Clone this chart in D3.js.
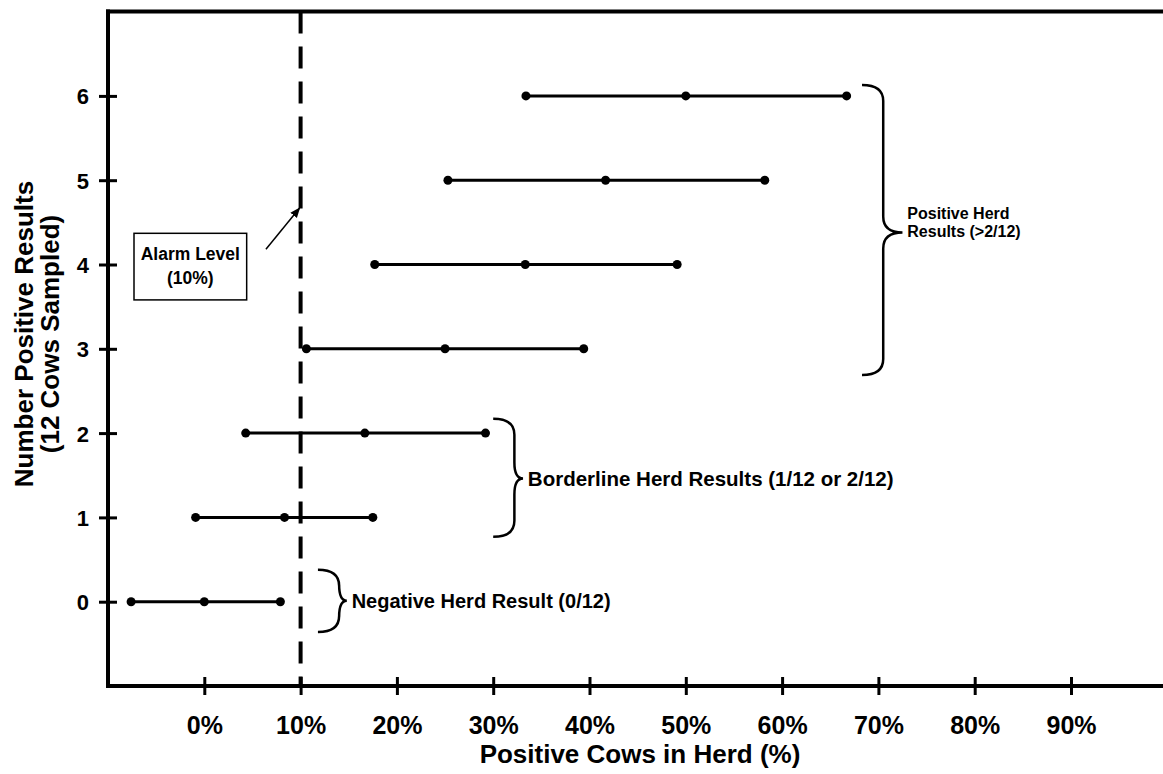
<!DOCTYPE html>
<html><head><meta charset="utf-8">
<script src="https://cdn.jsdelivr.net/npm/d3@7"></script>
<style>body{margin:0;background:#fff} text{font-family:"Liberation Sans",Arial,sans-serif;font-weight:bold;fill:#000}</style>
</head><body><svg id="c" width="1163" height="774"></svg>
<script>
// ---- data ----
const counts   = [0, 1, 2, 3, 4, 5, 6];
const lowPct   = [-7.6, -0.9, 4.3, 10.6, 17.7, 25.3, 33.4];
const midPct   = [0, 8.33, 16.67, 25, 33.33, 41.67, 50];
const highPct  = [7.9, 17.5, 29.2, 39.4, 49.1, 58.2, 66.7];
const xTickValues = [0, 10, 20, 30, 40, 50, 60, 70, 80, 90];
const yTickValues = [0, 1, 2, 3, 4, 5, 6];
const alarmLevel = 10;
const xTitle = "Positive Cows in Herd (%)";
const yTitleLines = ["Number Positive Results", "(12 Cows Sampled)"];

const svg = d3.select("#c");
const x = d3.scaleLinear().domain([-10, 100]).range([108, 1167.3]);
const y = d3.scaleLinear().domain([-1, 7]).range([686, 11.6]);

// frame lines
const axW = 4;
svg.append("line").attr("x1", x(-10)-2).attr("x2", 1163).attr("y1", y(7)).attr("y2", y(7)).attr("stroke","#000").attr("stroke-width",axW);
svg.append("line").attr("x1", x(-10)).attr("x2", x(-10)).attr("y1", y(7)-2).attr("y2", y(-1)+2).attr("stroke","#000").attr("stroke-width",axW);
svg.append("line").attr("x1", x(-10)-2).attr("x2", 1163).attr("y1", y(-1)).attr("y2", y(-1)).attr("stroke","#000").attr("stroke-width",axW);

// x axis
const gx = svg.append("g").attr("transform", `translate(0,${y(-1)})`)
  .call(d3.axisBottom(x).tickValues(xTickValues).tickSize(9).tickPadding(0).tickFormat(d => d + "%"));
gx.select(".domain").remove();
gx.selectAll(".tick line").attr("y1", -9).attr("y2", 9).attr("stroke","#000").attr("stroke-width",3);
gx.selectAll(".tick text").attr("y", 48).attr("dy", null).style("font-size","25px");

// y axis
const gy = svg.append("g").attr("transform", `translate(${x(-10)},0)`)
  .call(d3.axisLeft(y).tickValues(yTickValues).tickSize(9).tickPadding(0));
gy.select(".domain").remove();
gy.selectAll(".tick line").attr("x1", -9).attr("x2", 9).attr("stroke","#000").attr("stroke-width",3);
gy.selectAll(".tick text").attr("x", -19).attr("dy", "0.36em").style("font-size","22px");

// alarm dashed line
svg.append("line").attr("x1", x(alarmLevel)).attr("x2", x(alarmLevel))
  .attr("y1", y(7)).attr("y2", y(-1)).attr("stroke","#000").attr("stroke-width",4)
  .attr("stroke-dasharray","22,13");

// intervals
const rows = counts.map((c, i) => ({c, lo: lowPct[i], mid: midPct[i], hi: highPct[i]}));
svg.append("g").selectAll("line").data(rows).join("line")
  .attr("x1", d => x(d.lo)).attr("x2", d => x(d.hi))
  .attr("y1", d => y(d.c)).attr("y2", d => y(d.c))
  .attr("stroke","#000").attr("stroke-width",3);
const pts = rows.flatMap(d => [d.lo, d.mid, d.hi].map(v => ({v, c: d.c})));
svg.append("g").selectAll("circle").data(pts).join("circle")
  .attr("cx", d => x(d.v)).attr("cy", d => y(d.c)).attr("r", 4.5).attr("fill","#000");

// braces
function brace(xs, xv, xt, yTop, yBot, yTip) {
  const r = 16;
  return `M${xs},${yTop} Q${xv},${yTop} ${xv},${yTop + r} L${xv},${yTip - r} Q${xv},${yTip} ${xt},${yTip}` +
         ` Q${xv},${yTip} ${xv},${yTip + r} L${xv},${yBot - r} Q${xv},${yBot} ${xs},${yBot}`;
}
const braces = [
  {x0: 11.8, xv: 14.0, xt: 14.8, top: 0.38, bot: -0.36, tip: 0.01, lines: ["Negative Herd Result (0/12)"], tx: 15.3, ty: 0.01, fs: 20, lh: 1.1},
  {x0: 30.0, xv: 32.2, xt: 33.1, top: 2.17, bot: 0.77, tip: 1.46, lines: ["Borderline Herd Results (1/12 or 2/12)"], tx: 33.6, ty: 1.46, fs: 20.5, lh: 1.1},
  {x0: 68.3, xv: 70.5, xt: 72.5, top: 6.13, bot: 2.69, tip: 4.38, lines: ["Positive Herd", "Results (>2/12)"], tx: 73.0, ty: 4.50, fs: 16, lh: 1.15}
];
braces.forEach(b => {
  svg.append("path").attr("d", brace(x(b.x0), x(b.xv), x(b.xt), y(b.top), y(b.bot), y(b.tip)))
    .attr("fill","none").attr("stroke","#000").attr("stroke-width",2.5);
  const n = b.lines.length;
  const t = svg.append("text").attr("x", x(b.tx)).attr("y", y(b.ty)).style("font-size", b.fs + "px");
  b.lines.forEach((l, i) => {
    t.append("tspan").attr("x", x(b.tx)).attr("dy", i === 0 ? `${0.36 - (n - 1) * b.lh / 2}em` : `${b.lh}em`).text(l);
  });
});

// alarm label box + arrow
svg.append("defs").append("marker").attr("id","ah").attr("viewBox","0 0 10 10")
  .attr("refX",9).attr("refY",5).attr("markerWidth",7).attr("markerHeight",7).attr("orient","auto")
  .append("path").attr("d","M0,1 L10,5 L0,9 Z").attr("fill","#000");
svg.append("rect").attr("x", x(-7.3)).attr("y", y(4.37)).attr("width", x(4.4) - x(-7.3)).attr("height", y(3.58) - y(4.37))
  .attr("fill","#fff").attr("stroke","#000").attr("stroke-width",1.5);
const at = svg.append("text").attr("text-anchor","middle").style("font-size","17.5px");
at.append("tspan").attr("x", (x(-7.3) + x(4.4)) / 2).attr("y", y(3.98) - 6).text("Alarm Level");
at.append("tspan").attr("x", (x(-7.3) + x(4.4)) / 2).attr("y", y(3.98) + 18).text("(10%)");
svg.append("line").attr("x1", x(6.4)).attr("y1", y(4.18)).attr("x2", x(alarmLevel) - 1).attr("y2", y(4.67))
  .attr("stroke","#000").attr("stroke-width",1.5).attr("marker-end","url(#ah)");

// titles
svg.append("text").attr("x", 640).attr("y", 763).attr("text-anchor","middle").style("font-size","26px").text(xTitle);
const yt = svg.append("text").attr("transform","translate(0,334) rotate(-90)").attr("text-anchor","middle").style("font-size","26px");
yTitleLines.forEach((l, i) => yt.append("tspan").attr("x", 0).attr("y", 33 + i * 26).text(l));
</script></body></html>
